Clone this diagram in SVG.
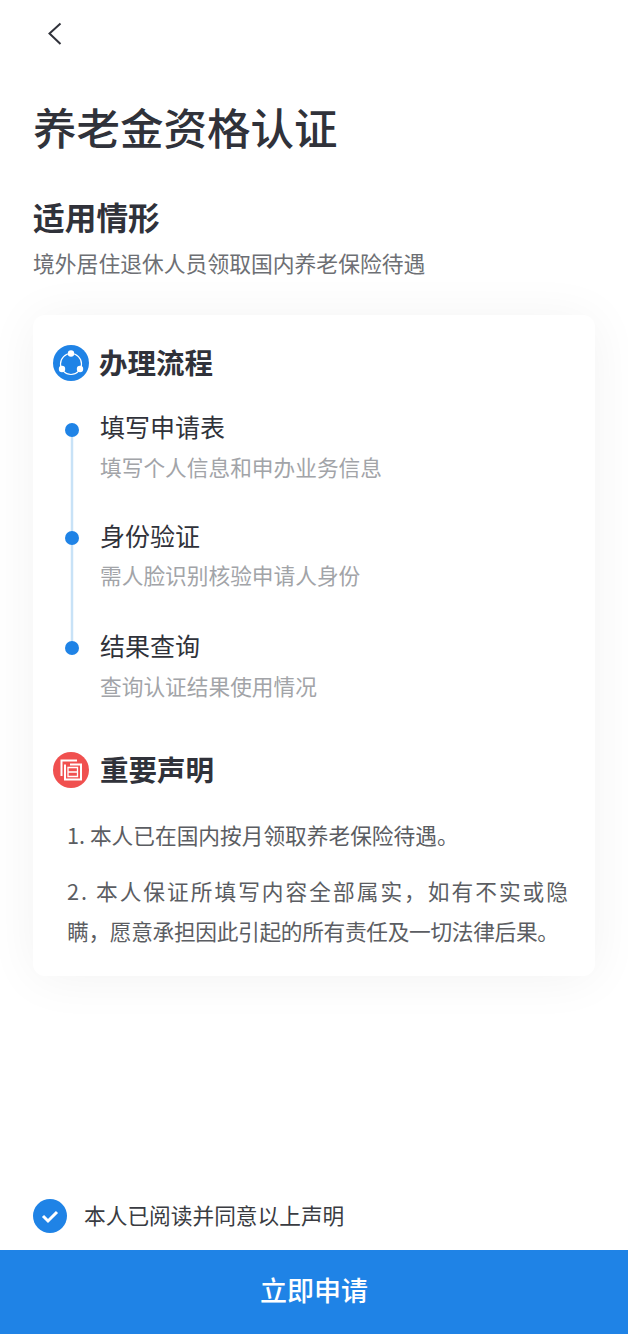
<svg xmlns="http://www.w3.org/2000/svg" width="628" height="1334" viewBox="0 0 628 1334">
<defs>
<style>
text{font-family:"Noto Sans CJK SC","Noto Sans",sans-serif}
.h{fill:#30323a;font-weight:700}
.st{font-size:25px;fill:#30323a}
.sub{font-size:21.7px;fill:#a2a4a8}
.body{font-size:21.7px;fill:#5b5d62}
.dot{fill:#1f83e6}
</style>
<filter id="sh" x="-20%" y="-20%" width="140%" height="140%"><feGaussianBlur stdDeviation="26"/></filter>
</defs>
<rect width="628" height="1334" fill="#fff"/>
<path id="back" d="M60.500 23.500 L49.500 33.500 L60.500 44" fill="none" stroke="#30323a" stroke-width="2"/>
<text class="h" x="33" y="145" style="font-size:43.500px;font-weight:500">养老金资格认证</text>
<text class="h" x="33" y="230" font-size="31.700">适用情形</text>
<text x="33" y="272" style="font-size:21.800px;fill:#6d6f74">境外居住退休人员领取国内养老保险待遇</text>
<g id="card">
<rect x="33" y="318" width="562" height="660" rx="12" fill="#000" opacity="0.05" filter="url(#sh)"/>
<rect x="33" y="315" width="562" height="661" rx="12" fill="#fff"/>
</g>
<g id="flow-header">
<circle cx="71" cy="363" r="18" fill="#1f83e6"/>
<circle cx="71" cy="364" r="10.500" fill="none" stroke="#fff" stroke-width="1.200"/>
<circle cx="71" cy="353.500" r="3.200" fill="#fff"/><circle cx="62" cy="369" r="3.200" fill="#fff"/><circle cx="80" cy="369" r="3.200" fill="#fff"/>
<text class="h" x="99" y="374" font-size="28.500">办理流程</text>
</g>
<g id="connectors"><line x1="72" y1="430" x2="72" y2="648" stroke="#c8e2f7" stroke-width="2.500"/></g>
<g id="step1"><circle class="dot" cx="72" cy="430" r="7"/><text class="st" x="100" y="437">填写申请表</text><text class="sub" x="100" y="476">填写个人信息和申办业务信息</text></g>
<g id="step2"><circle class="dot" cx="72" cy="538" r="7"/><text class="st" x="100" y="546">身份验证</text><text class="sub" x="100" y="584">需人脸识别核验申请人身份</text></g>
<g id="step3"><circle class="dot" cx="72" cy="648" r="7"/><text class="st" x="100" y="656">结果查询</text><text class="sub" x="100" y="695">查询认证结果使用情况</text></g>
<g id="notice-header">
<circle cx="71" cy="770" r="18" fill="#f0504f"/>
<path d="M77 760.500H61.500V776M65 764.500V779.500H81V764.500H70" fill="none" stroke="#fff" stroke-width="2"/>
<path d="M68 767.500H77.500V776.500H68ZM68 772H77.500" fill="none" stroke="#fff" stroke-width="1.300"/>
<text class="h" x="100" y="781" font-size="28.500">重要声明</text>
</g>
<g id="notice-text">
<text class="body" x="67" y="844">1. 本人已在国内按月领取养老保险待遇。</text>
<text class="body" x="67" y="900" textLength="501">2. 本人保证所填写内容全部属实，如有不实或隐</text>
<text class="body" x="67" y="940" textLength="492">瞒，愿意承担因此引起的所有责任及一切法律后果。</text>
</g>
<g id="agree">
<circle cx="50" cy="1216" r="17" fill="#1f83e6"/>
<path d="M43 1216L48 1221L57 1212" fill="none" stroke="#fff" stroke-width="3"/>
<text x="84" y="1224" style="font-size:21.700px;fill:#3a3c42">本人已阅读并同意以上声明</text>
</g>
<g id="button">
<rect x="0" y="1250" width="628" height="84" fill="#1f83e6"/>
<text x="314" y="1301" text-anchor="middle" style="font-size:27px;font-weight:500;fill:#fff">立即申请</text>
</g>
</svg>
